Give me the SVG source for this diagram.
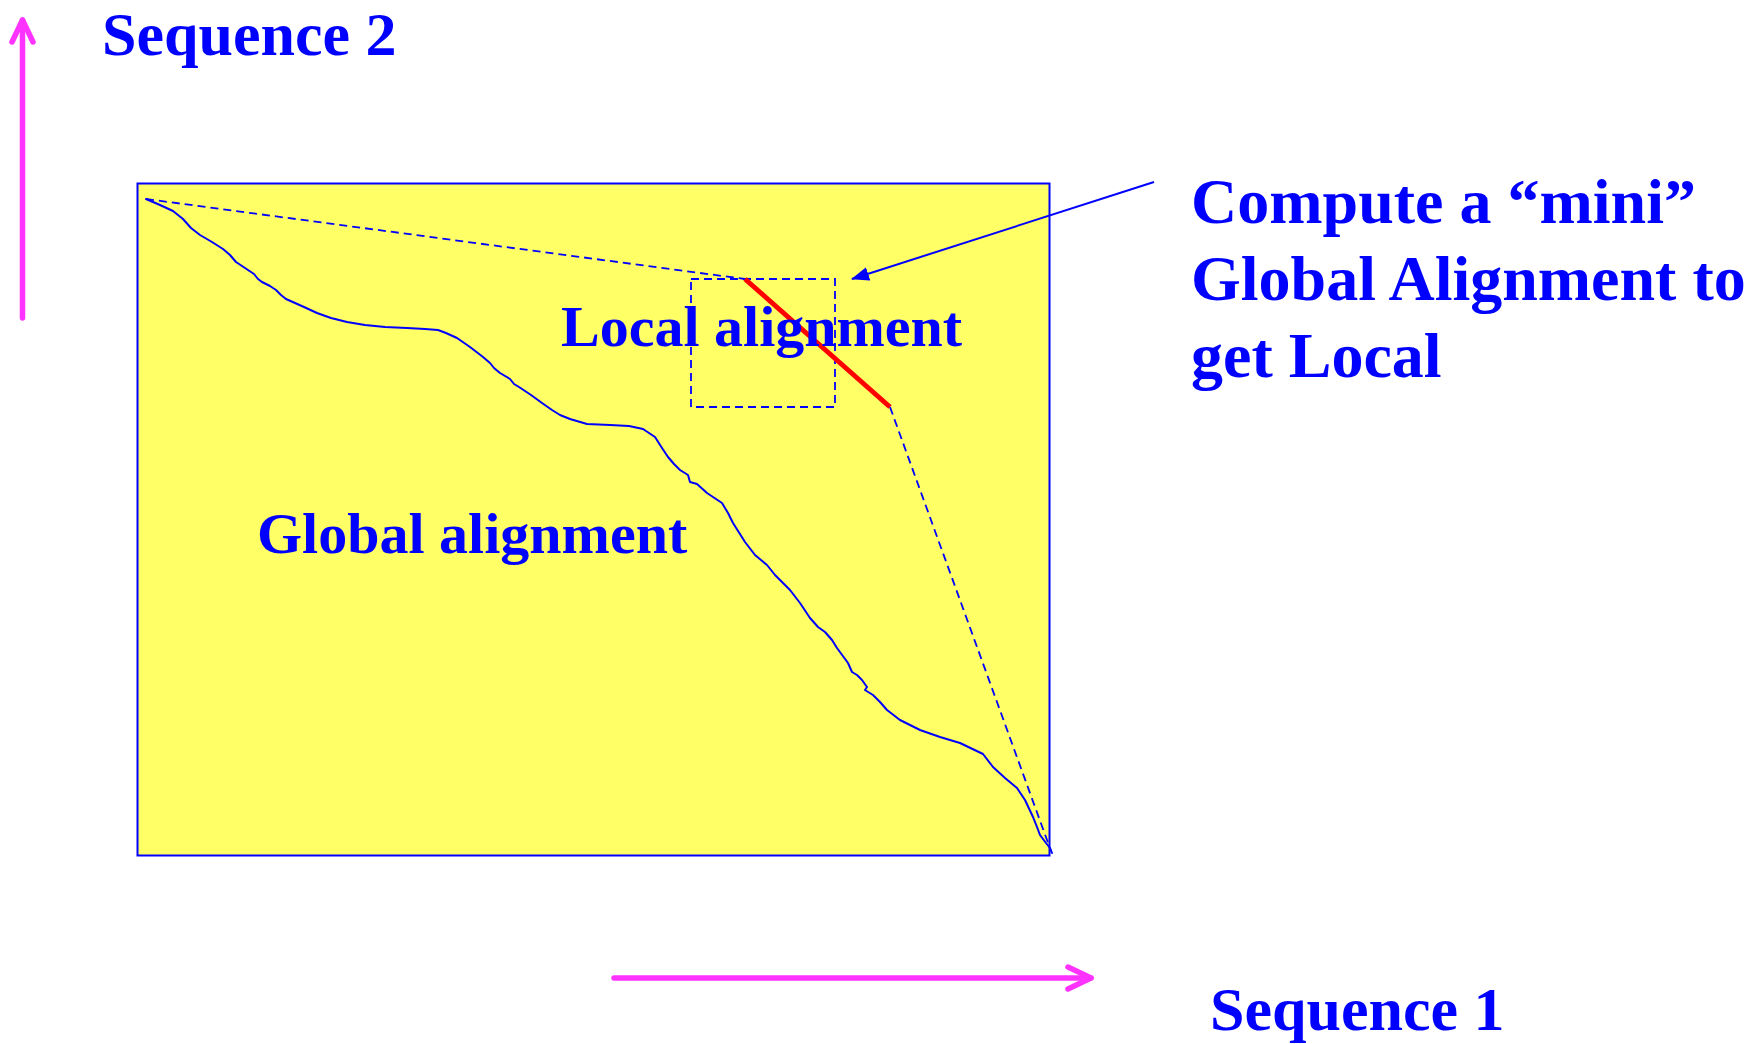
<svg xmlns="http://www.w3.org/2000/svg" width="1764" height="1044" viewBox="0 0 1764 1044">
  <style>
    .t { font-family: "Liberation Serif", "Times New Roman", serif; font-weight: bold; fill: #0000FF; }
    .dash { fill: none; stroke: #0000FF; stroke-width: 1.8; stroke-dasharray: 8 5; }
    .axis { fill: none; stroke: #FF33FF; stroke-width: 5.5; stroke-linecap: round; stroke-linejoin: round; }
  </style>
  <defs>
    <marker id="ah" viewBox="0 0 18 14" refX="17" refY="7" markerWidth="18" markerHeight="14" markerUnits="userSpaceOnUse" orient="auto">
      <path d="M0,0 L18,7 L0,14 Z" fill="#0000FF"/>
    </marker>
  </defs>

  <rect width="1764" height="1044" fill="#FFFFFF"/>

  <g id="matrix">
    <rect x="137.5" y="183.5" width="912" height="672" fill="#FFFF66" stroke="#0000FF" stroke-width="2"/>
  </g>

  <g id="global-path">
    <polyline fill="none" stroke="#0000FF" stroke-width="2" stroke-linejoin="round" stroke-linecap="round"
      points="146,199 160,205 173,211 183,219 191,228 200,235 212,242 223,249 230,255 236,262 245,268 254,274 258,279 262,282 270,286 276,290 281,295 286,299 295,303 304,307 317,313 331,318 347,322 365,325 385,327 407,328 425,329 438,330 446,333 457,338 470,347 483,357 490,363 494,368 500,373 510,379 514,384 519,387 531,395 542,403 552,410 560,415 570,419 587,424 610,425 629,426 643,429 655,437 662,448 668,457 674,464 680,470 688,475 690,482 697,484 707,493 722,503 728,513 733,523 745,542 755,555 767,565 775,575 790,590 800,603 810,618 818,627 825,632 832,640 837,648 848,663 852,672 857,675 862,680 867,687 865,690 873,695 880,702 887,710 900,720 920,730 940,737 960,743 983,754 993,767 1005,778 1017,788 1025,800 1033,817 1037,827 1040,835 1046,843 1050,848 1052,853"/>
  </g>

  <g id="local-box">
    <rect class="dash" x="691" y="279" width="144" height="128"/>
  </g>

  <g id="connectors">
    <line class="dash" x1="146" y1="199" x2="745" y2="279"/>
    <line class="dash" x1="890" y1="407" x2="1051" y2="851"/>
    <line x1="745" y1="279" x2="890" y2="407" stroke="#FF0000" stroke-width="5"/>
    <line x1="1154" y1="182" x2="852" y2="279" stroke="#0000FF" stroke-width="2" marker-end="url(#ah)"/>
  </g>

  <g id="axis-seq2">
    <path class="axis" d="M22.5,318 L22.5,20"/>
    <path class="axis" d="M12,42 L22.5,20 L33,42"/>
  </g>
  <g id="axis-seq1">
    <path class="axis" d="M614,978 L1091,978"/>
    <path class="axis" d="M1068,967 L1091,978 L1068,989"/>
  </g>

  <g id="labels">
    <text class="t" x="102" y="55" font-size="62">Sequence 2</text>
    <text class="t" x="1210" y="1030" font-size="62">Sequence 1</text>
    <text class="t" x="561" y="346" font-size="58">Local alignment</text>
    <text class="t" x="257" y="553" font-size="58">Global alignment</text>
    <text class="t" x="1191" y="223" font-size="64">Compute a “mini”</text>
    <text class="t" x="1191" y="300" font-size="64">Global Alignment to</text>
    <text class="t" x="1191" y="377" font-size="64">get Local</text>
  </g>
</svg>
